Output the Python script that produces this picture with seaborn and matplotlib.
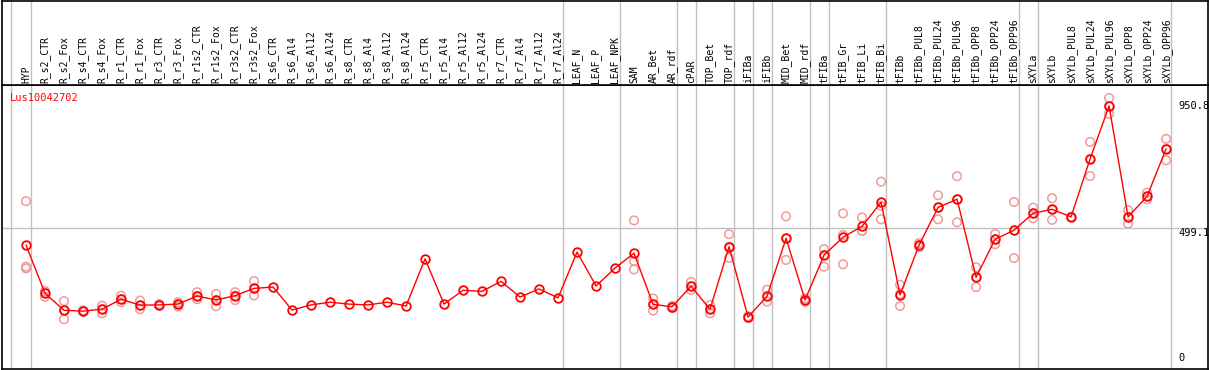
import numpy as np
import pandas as pd
import matplotlib
matplotlib.use("Agg")
import matplotlib.pyplot as plt
import matplotlib.transforms as mtransforms
import seaborn as sns

# ---------------- data ----------------
gene = "Lus10042702"
categories = [
    "HYP", "R_s2_CTR", "R_s2_Fox", "R_s4_CTR", "R_s4_Fox", "R_r1_CTR", "R_r1_Fox",
    "R_r3_CTR", "R_r3_Fox", "R_r1s2_CTR", "R_r1s2_Fox", "R_r3s2_CTR", "R_r3s2_Fox",
    "R_s6_CTR", "R_s6_Al4", "R_s6_Al12", "R_s6_Al24", "R_s8_CTR", "R_s8_Al4",
    "R_s8_Al12", "R_s8_Al24", "R_r5_CTR", "R_r5_Al4", "R_r5_Al12", "R_r5_Al24",
    "R_r7_CTR", "R_r7_Al4", "R_r7_Al12", "R_r7_Al24", "LEAF_N", "LEAF_P", "LEAF_NPK",
    "SAM", "AR_Bet", "AR_rdf", "cPAR", "TOP_Bet", "TOP_rdf", "iFIBa", "iFIBb",
    "MID_Bet", "MID_rdf", "tFIBa", "tFIB_Gr", "tFIB_Li", "tFIB_Bi", "tFIBb",
    "tFIBb_PUL8", "tFIBb_PUL24", "tFIBb_PUL96", "tFIBb_OPP8", "tFIBb_OPP24",
    "tFIBb_OPP96", "sXYLa", "sXYLb", "sXYLb_PUL8", "sXYLb_PUL24", "sXYLb_PUL96",
    "sXYLb_OPP8", "sXYLb_OPP24", "sXYLb_OPP96",
]
means = [
    437, 259, 196, 193, 200, 237, 215, 216, 219, 249, 234, 250, 277,
    282, 197, 216, 226, 219, 216, 226, 212, 386, 219, 270, 266,
    303, 245, 275, 242, 411, 286, 352,
    407, 218, 209, 285, 200, 431, 171, 248, 462, 234, 400, 466, 506, 595,
    253, 437, 576, 606, 318, 458, 492, 554, 569, 541, 755, 950.8, 541, 617, 792,
]
nan = np.nan
rep_a = [
    599, 267, 230, 196, 213, 250, 232, 219, 226, 263, 256, 263, 304,
    nan, nan, nan, nan, nan, nan, nan, nan, nan, nan, nan, nan,
    nan, nan, nan, nan, nan, nan, nan,
    528, 240, 212, 301, 215, 477, 174, 272, 543, 240, 422, 554, 539, 671,
    290, 444, 621, 691, 355, 478, 596, 575, 610, 541, 818, 980, 566, 630, 829,
]
rep_b = [
    357, 259, 196, 193, 200, 237, 214, 216, 219, 249, 234, 250, 277,
    nan, nan, nan, nan, nan, nan, nan, nan, nan, nan, nan, nan,
    nan, nan, nan, nan, nan, nan, nan,
    378, 218, 209, 285, 200, 431, 171, 248, 462, 234, 400, 474, 490, 582,
    256, 437, 576, 606, 318, 458, 491, 554, 569, 541, 755, 950, 541, 617, 792,
]
rep_c = [
    351, 246, 163, 191, 185, 226, 200, 213, 210, 237, 211, 234, 251,
    nan, nan, nan, nan, nan, nan, nan, nan, nan, nan, nan, nan,
    nan, nan, nan, nan, nan, nan, nan,
    347, 195, 204, 271, 185, 390, 168, 228, 382, 228, 357, 366, 489, 532,
    212, 429, 532, 521, 282, 440, 389, 536, 530, 541, 692, 921, 516, 606, 750,
]
group_ends = [0, 28, 31, 34, 35, 37, 38, 39, 41, 42, 45, 52, 53, 60]
ref_values = [950.8, 499.1, 0]
ref_labels = ["950.8", "499.1", "0"]

# ---------------- frames ----------------
pos = np.arange(len(categories))
df_mean = pd.DataFrame({"pos": pos, "value": means})
df_rep = pd.DataFrame({
    "pos": np.concatenate([pos, pos, pos]),
    "value": np.concatenate([rep_a, rep_b, rep_c]),
}).dropna()

# ---------------- style ----------------
sns.set_theme(style="white")
plt.rcParams["font.family"] = ["DejaVu Sans Mono", "DejaVu Sans"]
RED = "#ff0000"
PINK = "#f09a9a"
GRID = "#c0c0c0"

W, H = 1209, 370
fig = plt.figure(figsize=(W / 100, H / 100), dpi=100)
fig.patch.set_facecolor("white")

left_px, right_px = 1.5, 1207.5
top_plot_px, bottom_plot_px = 85, 369
ax = fig.add_axes([left_px / W, (H - bottom_plot_px) / H,
                   (right_px - left_px) / W, (bottom_plot_px - top_plot_px) / H])
axt = fig.add_axes([left_px / W, (H - top_plot_px) / H,
                    (right_px - left_px) / W, (top_plot_px - 0.5) / H], sharex=ax)

xlim = (-1.29, 62.18)
ylim = (-20.7, 1028)
seps = [-0.8] + [g + 0.25 for g in group_ends]

sns.scatterplot(data=df_rep, x="pos", y="value", ax=ax, marker="o",
                facecolors="none", edgecolors=PINK, linewidth=1.1, s=38,
                legend=False, zorder=2)
sns.lineplot(data=df_mean, x="pos", y="value", ax=ax, color=RED, lw=1.0,
             marker="o", ms=6.2, mfc="none", mec=RED, mew=1.3, legend=False,
             zorder=3)

ax.set_xlim(*xlim)
ax.set_ylim(*ylim)
axt.set_ylim(0, 1)

for a in (ax, axt):
    a.set_facecolor("white")
    a.set_xlabel("")
    a.set_ylabel("")
    for s in a.spines.values():
        s.set_color("black")
        s.set_linewidth(1.2)
    a.tick_params(left=False, bottom=False, labelleft=False, labelbottom=False)
    a.vlines(seps, 0, 1, transform=a.get_xaxis_transform(),
             colors=GRID, lw=1.0, zorder=1)

ax.axhline(ref_values[1], color=GRID, lw=1.0, zorder=1)

# category labels (rotated) in header band
lab_tr = mtransforms.blended_transform_factory(axt.transData, axt.transAxes)
for p, c in zip(pos, categories):
    axt.text(p, 0.025, c, rotation=90, ha="center", va="bottom",
             fontsize=7, color="black", transform=lab_tr)

# gene name
ax.text(8.5 / 1206, 1 - 13 / 284, gene, transform=ax.transAxes, color=RED,
        fontsize=7.5, ha="left", va="center")

# right-side reference labels
tr = mtransforms.blended_transform_factory(ax.transAxes, ax.transData)
xlab = (1178 - left_px) / 1206
ax.text(xlab, ref_values[0], ref_labels[0], transform=tr, fontsize=7.5,
        ha="left", va="center", color="black")
ax.text(xlab, ref_values[1], ref_labels[1], transform=tr, fontsize=7.5,
        ha="left", va="top", color="black")
ax.text(xlab, ref_values[2], ref_labels[2], transform=tr, fontsize=7.5,
        ha="left", va="bottom", color="black")

fig.savefig("out.png", dpi=100, facecolor="white")
